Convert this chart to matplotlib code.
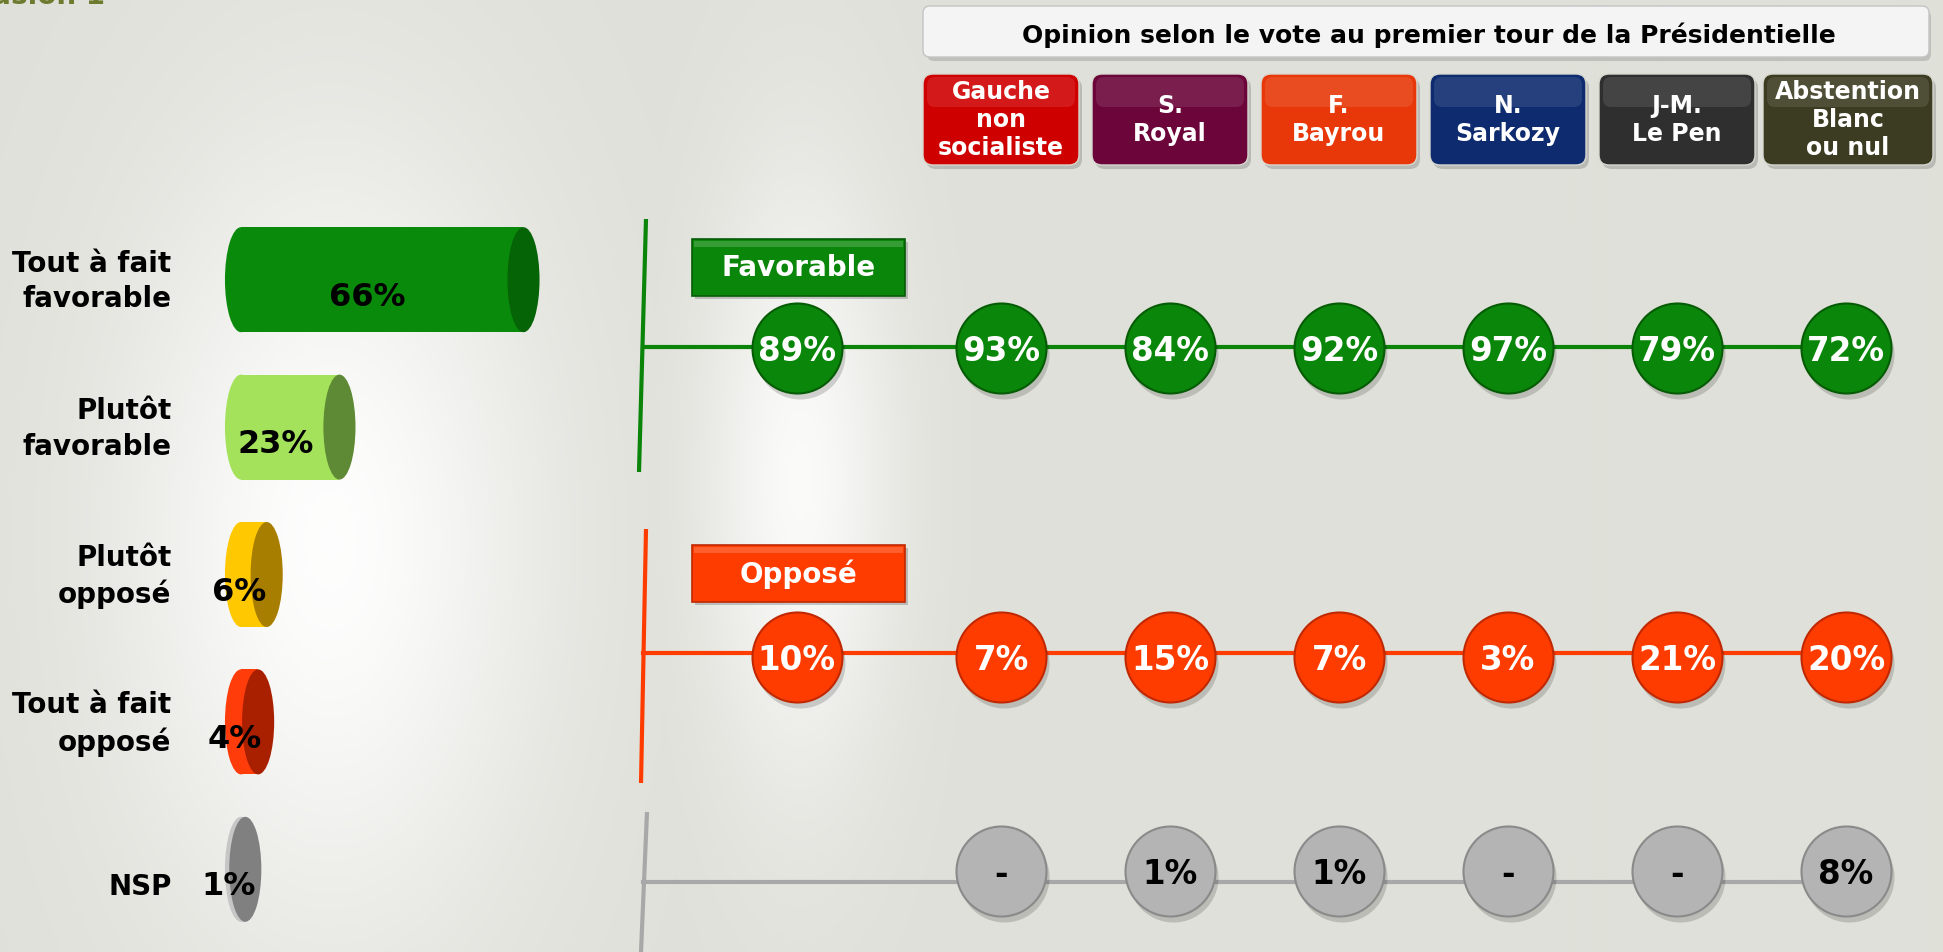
import matplotlib
matplotlib.use("Agg")
import matplotlib.pyplot as plt
import matplotlib.transforms as mtransforms
import numpy as np
from matplotlib.patches import Ellipse, FancyBboxPatch, Rectangle

# ---- data ---------------------------------------------------------------
answer_labels = ["Tout à fait\nfavorable", "Plutôt\nfavorable", "Plutôt\nopposé",
                 "Tout à fait\nopposé", "NSP"]
answer_values = [66, 23, 6, 4, 1]

vote_groups = ["Gauche\nnon\nsocialiste", "S.\nRoyal", "F.\nBayrou",
               "N.\nSarkozy", "J-M.\nLe Pen", "Abstention\nBlanc\nou nul"]

# first value = ensemble, then one value per vote group
row_tags = ["Favorable", "Opposé", None]
favorable = [89, 93, 84, 92, 97, 79, 72]
oppose = [10, 7, 15, 7, 3, 21, 20]
nsp = [np.nan, 0, 1, 1, 0, 0, 8]  # nan = no bubble, 0 = "-"

title = "Opinion selon le vote au premier tour de la Présidentielle"
corner_text = "Conclusion 1"

# ---- style ----------------------------------------------------------------
answer_colors = ["#0a8a0a", "#a5e25c", "#ffc800", "#ff3c0a", "#c6c6c6"]
answer_caps = ["#056405", "#5f8a35", "#a87e00", "#a82000", "#808080"]
group_colors = ["#cf0000", "#6c0539", "#e8380a", "#0d2b6e", "#2f2f2f", "#3c3c22"]
row_colors = ["#0a870a", "#ff3c00", "#b4b4b4"]
row_edges = ["#055c05", "#c02800", "#8a8a8a"]
row_lines = ["#0a850a", "#ff3c00", "#a8a8a8"]
row_text = ["white", "white", "black"]

W, H = 1943, 952
BOLD = dict(fontweight="bold", family="DejaVu Sans")

fig = plt.figure(figsize=(W / 100, H / 100), dpi=100)

# overlay axes in pixel units for the decoration
ax = fig.add_axes([0, 0, 1, 1])
yy, xx = np.mgrid[0:H:2, 0:W:2]
glow_left = np.exp(-((xx - 330) / 210) ** 2 - ((yy - 540) / 400) ** 2)
glow_mid = 0.9 * np.exp(-((xx - 800) / 95) ** 2 - ((yy - 480) / 310) ** 2)
glow = np.maximum(glow_left, glow_mid)
base = np.array([223, 224, 217]) / 255
img = base + (1 - base) * glow[..., None] * 0.95
ax.imshow(img, extent=(0, W, H, 0), aspect="auto", interpolation="bilinear", zorder=0)
ax.set_xlim(0, W)
ax.set_ylim(H, 0)
ax.axis("off")

ax.text(105, 4, corner_text, ha="right", va="baseline", fontsize=20,
        color="#6d7b2f", **BOLD)

# title box
ax.add_patch(FancyBboxPatch((927, 10), 1004, 51, boxstyle="round,pad=0,rounding_size=7",
                            fc="#9a9a9a", ec="none", alpha=0.45, zorder=2))
ax.add_patch(FancyBboxPatch((923, 6), 1006, 51, boxstyle="round,pad=0,rounding_size=7",
                            fc="#f4f4f4", ec="#c4c4c4", lw=1, zorder=3))
ax.text(1429, 35, title, ha="center", va="center", fontsize=18, zorder=4, **BOLD)

# slot -> pixel mapping shared with the bubble axes
SLOT1_PX, SLOT_PX = 1001, 169
col_pos = np.r_[-0.21, np.arange(1, len(vote_groups) + 1)]
box_w = [156, 156, 156, 156, 156, 170]
for k, (name, col) in enumerate(zip(vote_groups, group_colors)):
    cx = SLOT1_PX + (col_pos[k + 1] - 1) * SLOT_PX + (2 if k == 5 else 0)
    x0 = cx - box_w[k] / 2
    ax.add_patch(FancyBboxPatch((x0 + 3, 78), box_w[k], 91, boxstyle="round,pad=0,rounding_size=10",
                                fc="#8c8c8c", ec="none", alpha=0.45, zorder=2))
    ax.add_patch(FancyBboxPatch((x0, 74), box_w[k], 91, boxstyle="round,pad=0,rounding_size=10",
                                fc=col, ec="#d8d8d0", lw=1, zorder=3))
    ax.add_patch(FancyBboxPatch((x0 + 4, 77), box_w[k] - 8, 30, boxstyle="round,pad=0,rounding_size=8",
                                fc="white", ec="none", alpha=0.10, zorder=3))
    ax.text(cx, 120, name, ha="center", va="center", fontsize=17, color="white",
            linespacing=1.2, zorder=4, **BOLD)

# ---- left: cylinders ----------------------------------------------------------
ax_bar = fig.add_axes([241 / W, 1 - 943 / H, 428 / W, 737 / H])
ax_bar.set_xlim(0, 100)
ax_bar.set_ylim(4.5, -0.5)
ax_bar.patch.set_visible(False)
for s in ax_bar.spines.values():
    s.set_visible(False)
rows = np.arange(len(answer_values))
bar_h, cap_w = 0.712, 7.5
ax_bar.barh(rows, answer_values, height=bar_h, color=answer_colors, zorder=2)
for i, (v, c, cc) in enumerate(zip(answer_values, answer_colors, answer_caps)):
    ax_bar.add_patch(Ellipse((0, i), cap_w, bar_h, fc=c, ec="none", zorder=2, clip_on=False))
    ax_bar.add_patch(Ellipse((v, i), cap_w, bar_h, fc=cc, ec="none", zorder=3, clip_on=False))
    ax_bar.text(v / 2 - 3.5, i + 0.12, f"{v}%", ha="center", va="center", fontsize=23,
                zorder=4, **BOLD)
ax_bar.set_xticks([])
ax_bar.set_yticks(rows, answer_labels)
ax_bar.tick_params(axis="y", length=0, pad=50)
for lab in ax_bar.get_yticklabels():
    lab.set_fontsize(20)
    lab.set_fontweight("bold")
    lab.set_linespacing(1.35)
    shift = -15 if "\n" not in lab.get_text() else 5
    lab.set_transform(lab.get_transform() + mtransforms.ScaledTranslation(0, shift / 100, fig.dpi_scale_trans))

# ---- right: bubbles ------------------------------------------------------------
ax_dots = fig.add_axes([600 / W, 0, 1 - 600 / W, 1])
ax_dots.set_xlim(1 - (SLOT1_PX - 600) / SLOT_PX, 1 + (W - SLOT1_PX) / SLOT_PX)
ax_dots.set_ylim(H, 0)
ax_dots.axis("off")

line_y = [347, 653, 882]
dot_y = [348, 657, 871]
axis_slot = 1 + (643 - SLOT1_PX) / SLOT_PX
vlines = [((646, 219), (639, 472)), ((646, 529), (641, 783)), ((647, 812), (641, 952))]
shadow = mtransforms.offset_copy(ax_dots.transData, fig=fig, x=3, y=-6, units="dots")
diam = 90 * 0.72

for r, values in enumerate([favorable, oppose, nsp]):
    y = dot_y[r]
    (xa, ya), (xb, yb) = vlines[r]
    ax.plot([xa, xb], [ya, yb], color=row_lines[r], lw=3, solid_capstyle="butt", zorder=2)
    ax_dots.plot([axis_slot, col_pos[-1]], [line_y[r]] * 2, color=row_lines[r], lw=3, zorder=1)
    vals = np.array(values, dtype=float)
    keep = ~np.isnan(vals)
    xs = col_pos[keep]
    ax_dots.scatter(xs, np.full(xs.size, y), s=diam ** 2, color="black", alpha=0.16,
                    linewidths=0, transform=shadow, zorder=2)
    ax_dots.scatter(xs, np.full(xs.size, y), s=diam ** 2, color=row_colors[r],
                    edgecolors=row_edges[r], linewidths=1.5, zorder=3)
    for x, v in zip(xs, vals[keep]):
        txt = "-" if v == 0 else f"{v:.0f}%"
        ax_dots.text(x, y, txt, ha="center", va="center_baseline", fontsize=23.5,
                     color=row_text[r], zorder=4, **BOLD)
    if row_tags[r]:
        ty = line_y[r] - 108
        ax.add_patch(Rectangle((695, ty + 3), 213, 57, fc="#7a7a7a", alpha=0.4, ec="none", zorder=2))
        ax.add_patch(Rectangle((692, ty), 213, 57, fc=row_colors[r], ec=row_edges[r], lw=1.2, zorder=3))
        ax.add_patch(Rectangle((694, ty + 2), 209, 6, fc="white", alpha=0.18, ec="none", zorder=3))
        ax.text(798.5, ty + 29, row_tags[r], ha="center", va="center", fontsize=20,
                color="white", zorder=4, **BOLD)

fig.savefig("out.png", dpi=100)
